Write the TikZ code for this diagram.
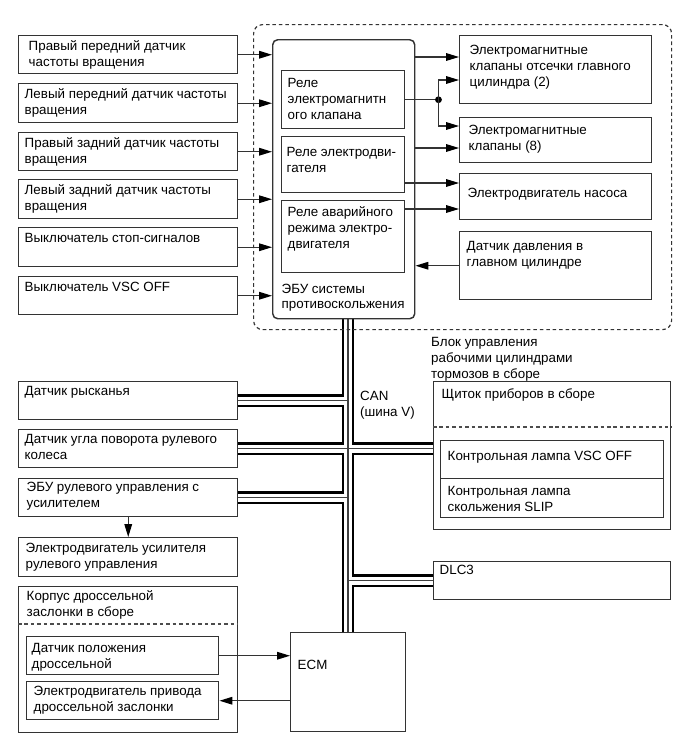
\documentclass[tikz,border=0pt]{standalone}
\usepackage{fontspec}
\setmainfont{Liberation Sans}
\usetikzlibrary{arrows.meta,backgrounds}

% one pixel of the drawing
\newdimen\pxunit \pxunit=0.03cm
\newcommand{\px}{*0.03cm}
% boxed text: [left pad]{width}{height}{top pad}{lines}
\NewDocumentCommand{\cell}{O{6} m m m m}{%
  \parbox[c][#3\pxunit][t]{#2\pxunit}{\vspace*{#4\pxunit}\hspace*{#1\pxunit}%
    \begin{tabular}[t]{@{}l@{}}#5\end{tabular}}}

\begin{document}
\begin{tikzpicture}[x=0.03cm, y=-0.03cm,
  font=\fontsize{11.4pt}{13.6pt}\selectfont,
  unit/.style={draw=black!80, line width=1.25pt, anchor=north west, inner sep=0pt},
  group/.style={draw=black!80, line width=1pt, dash pattern=on 3pt off 2.5pt,
    rounded corners=9\px, anchor=north west, inner sep=0pt},
  arr/.style={draw=black!80, line width=1pt, -{Triangle[length=11pt, width=6.5pt, color=black]}},
  sep/.style={draw=black!70, line width=0.9pt, dash pattern=on 3pt off 2.5pt},
  txt/.style={anchor=north west, inner sep=0pt, align=left}]
\useasboundingbox (0,0) rectangle (689,756);

% brake actuator assembly
\node[group, minimum width=418\px, minimum height=305\px] (act) at (253,24) {};
\node[unit, rounded corners=5\px] (abs) at (272,39) {\parbox[c][279\pxunit][b]{142\pxunit}{%
  \hspace*{9\pxunit}\begin{tabular}[b]{@{}l@{}}ЭБУ системы\\противоскольжения\end{tabular}\par\vspace{5\pxunit}}};
\node[unit] (rel1) at (281,70) {\cell{123}{58}{6}{Реле\\электромагнитн\\ого клапана}};
\node[unit] (rel2) at (281,136) {\cell[5]{123}{56}{9}{Реле электродви-\\гателя}};
\node[unit] (rel3) at (281,200) {\cell{123}{72}{5}{Реле аварийного\\режима электро-\\двигателя}};
\node[unit] (mcv) at (459,35) {\cell[10]{192}{68}{8}{Электромагнитные\\клапаны отсечки главного\\цилиндра (2)}};
\node[unit] (sv) at (459,117) {\cell[9]{192}{45}{6}{Электромагнитные\\клапаны (8)}};
\node[unit] (pump) at (459,173) {\cell[8]{192}{46}{13}{Электродвигатель насоса}};
\node[unit] (mps) at (459,231) {\cell[7]{192}{68}{8}{Датчик давления в\\главном цилиндре}};
\node[txt] (actlbl) at (431,337) {Блок управления\\рабочими цилиндрами\\тормозов в сборе};

% wheel speed sensors and switches
\node[unit] (rf) at (18,35) {\cell[10]{219}{38}{4}{Правый передний датчик\\частоты вращения}};
\node[unit] (lf) at (18,83) {\cell{219}{39}{4}{Левый передний датчик частоты\\вращения}};
\node[unit] (rr) at (18,132) {\cell{219}{38}{4}{Правый задний датчик частоты\\вращения}};
\node[unit] (lr) at (18,179) {\cell{219}{39}{4}{Левый задний датчик частоты\\вращения}};
\node[unit] (stop) at (18,227) {\cell{219}{39}{4}{Выключатель стоп-сигналов}};
\node[unit] (vscsw) at (18,276) {\cell{219}{38}{4}{Выключатель VSC OFF}};

% CAN side
\node[unit] (yaw) at (18,381) {\cell{219}{38}{3}{Датчик рысканья}};
\node[unit] (sas) at (18,429) {\cell{219}{38}{3}{Датчик угла поворота рулевого\\колеса}};
\node[unit] (eps) at (18,478) {\cell[8]{219}{38}{2}{ЭБУ рулевого управления с\\усилителем}};
\node[unit] (epsm) at (18,537) {\cell[7]{219}{39}{4}{Электродвигатель усилителя\\рулевого управления}};
\node[unit] (thr) at (18,586) {\cell[8]{219}{146}{3}{Корпус дроссельной\\заслонки в сборе}};
\node[unit] (tps) at (26,636) {\cell[5]{192}{38}{5}{Датчик положения\\дроссельной}};
\node[unit] (thm) at (26,681) {\cell[7]{192}{38}{3}{Электродвигатель привода\\дроссельной заслонки}};
\node[unit] (ecm) at (290,632) {\cell[7]{115}{99}{26}{ECM}};
\node[unit] (meter) at (433,381) {\cell[8]{237}{148}{6}{Щиток приборов в сборе}};
\node[unit] (vscl) at (440,440) {\cell[7]{223}{38}{9}{Контрольная лампа VSC OFF}};
\node[unit] (slip) at (440,478) {\cell[7]{223}{39}{6}{Контрольная лампа\\скольжения SLIP}};
\node[unit] (dlc) at (433,561) {\cell{237}{38}{2}{DLC3}};
\node[txt] (canlbl) at (360,391) {CAN\\(шина V)};

\draw[sep] ([yshift=-38\px]thr.north west) -- ([yshift=-38\px]thr.north east);
\draw[sep] ([yshift=-46\px]meter.north west) -- ([yshift=-46\px]meter.north east);

% inputs to the ECU
\foreach \n in {rf,lf,rr,lr,stop,vscsw}
  \draw[arr] (\n.east) -- (\n.east -| abs.west);

% outputs of the actuator
\coordinate (mcv1) at ([yshift=-22\px]mcv.north west);
\coordinate (mcv2) at ([yshift=-45\px]mcv.north west);
\coordinate (sv1) at ([yshift=-9\px]sv.north west);
\coordinate (sv2) at ([yshift=-31\px]sv.north west);
\coordinate (pump1) at ([yshift=-10\px]pump.north west);
\coordinate (pump2) at ([yshift=-36\px]pump.north west);
\coordinate (jn) at ([xshift=33\px]rel1.east);
\draw[arr] (abs.east |- mcv1) -- (mcv1);
\draw[draw=black!80, line width=1pt] (rel1.east) -- (jn);
\fill[black] (jn) circle (3.4\px);
\draw[arr] (jn) |- (mcv2);
\draw[arr] (jn) |- (sv1);
\draw[arr] (abs.east |- sv2) -- (sv2);
\draw[arr] (rel2.east |- pump1) -- (pump1);
\draw[arr] (rel3.east |- pump2) -- (pump2);
\draw[arr] (mps.west) -- (mps.west -| abs.east);

\draw[arr] (eps.south) -- (epsm.north);
\draw[arr] (tps.east) -- (tps.east -| ecm.west);
\draw[arr] (ecm.west |- thm.east) -- (thm.east);

% CAN bus (V bus)
\begin{pgfonlayer}{background}
\foreach \w/\c in {12.5/black, 8/white, 1.5/black!75}
  \draw[line width=\w\px, \c] (abs.south -| ecm.north) -- (ecm.north)
    (yaw.east) -- (yaw.east -| ecm.north)
    (sas.east) -- (sas.east -| meter.west)
    (eps.east) -- (eps.east -| ecm.north)
    (dlc.west) -- (dlc.west -| ecm.north);
\end{pgfonlayer}
\end{tikzpicture}
\end{document}
